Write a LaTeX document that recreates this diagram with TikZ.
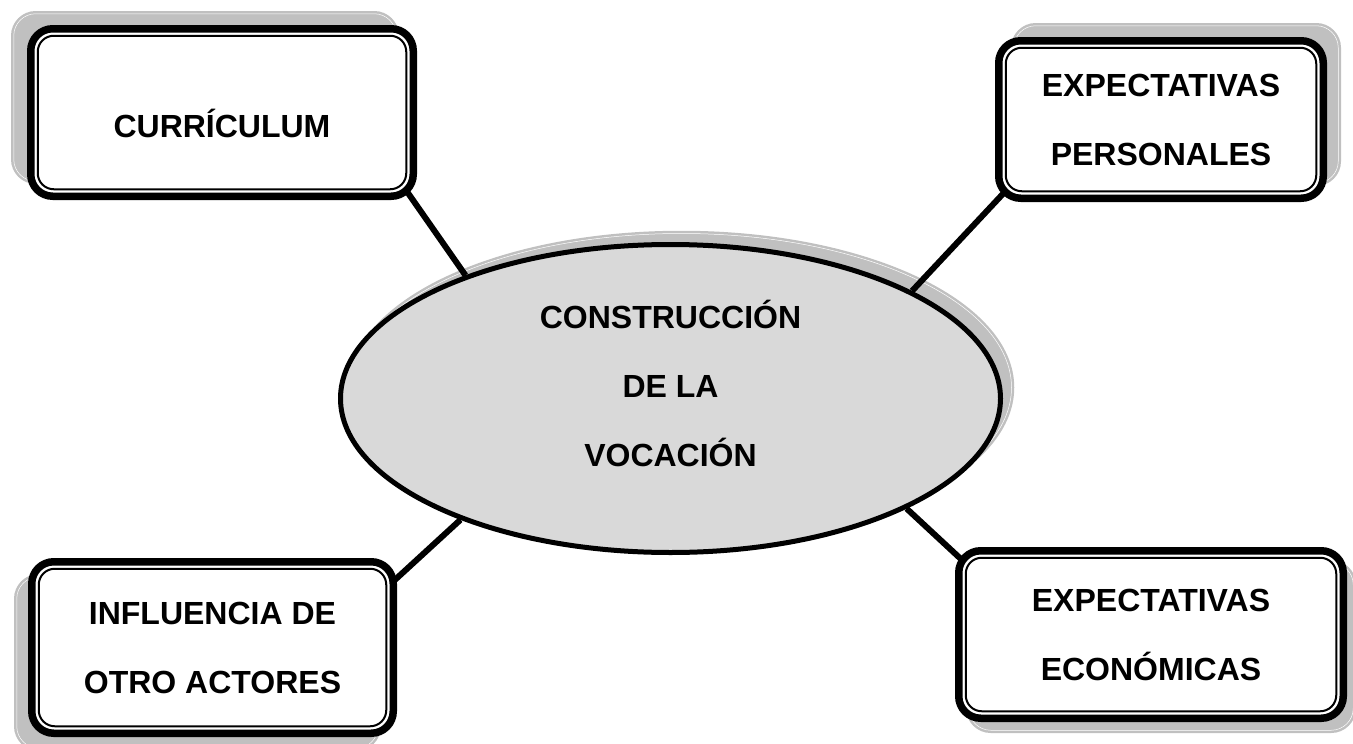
\documentclass[tikz,border=0pt]{standalone}
\usepackage{fontspec}
\setmainfont{Liberation Sans}
\usepackage{tikz}
\usetikzlibrary{shapes.geometric,shadows,calc}

\definecolor{ovalgray}{HTML}{D9D9D9}
\definecolor{shadegray}{HTML}{C0C0C0}

\tikzset{
  factor/.style={draw=black, line width=7.5pt, rounded corners=22pt, fill=white,
    inner sep=0pt, align=center, font=\bfseries\fontsize{32}{69}\selectfont},
  centre/.style={ellipse, draw=black, line width=5pt, fill=ovalgray, inner sep=0pt,
    minimum width=660pt, minimum height=308pt},
  words/.style={align=center, font=\bfseries\fontsize{32}{69}\selectfont},
  shade/.style 2 args={drop shadow={shadow xshift=#1, shadow yshift=#2, opacity=1,
    fill=shadegray, draw=shadegray, line width=2.5pt, double=white, double distance=0.5pt}},
  innerline/.style 2 args={draw=black, line width=2pt, rounded corners=16pt, inner sep=0pt,
    minimum width=#1, minimum height=#2},
  link/.style={line width=6pt}
}

\begin{document}
\begin{tikzpicture}[x=1pt,y=-1pt]
  \useasboundingbox (0,0) rectangle (1353,744);

  % central oval
  \node[centre, shade={11pt}{11pt}] (voc) at (670.5,398.5) {};
  \node[words] (voctext) at (670.5,383) {CONSTRUCCIÓN\\DE LA\\VOCACIÓN};

  % connectors, drawn under the boxes
  \draw[link] (voc.149.8) -- ($(voc.149.8)!1.12!(408,193)$) coordinate (e1);
  \draw[link] (voc.24.2) -- ($(voc.24.2)!1.1!(1000,197)$) coordinate (e2);
  \draw[link] (voc.210.8) -- ($(voc.210.8)!1.12!(397,578)$) coordinate (e3);
  \draw[link] (voc.-25.7) -- ($(voc.-25.7)!1.12!(962,560)$) coordinate (e4);

  % the four boxes
  \node[factor, minimum width=382.5pt, minimum height=167.5pt, text height=49pt, text depth=0pt,
    shade={-17pt}{15pt}] (cur) at (222,112.5) {CURRÍCULUM};
  \node[factor, minimum width=324.5pt, minimum height=157.5pt,
    shade={15pt}{15pt}] (per) at (1161,119.5) {EXPECTATIVAS\\PERSONALES};
  \node[factor, minimum width=361.5pt, minimum height=171.5pt,
    shade={-15pt}{-15pt}] (inf) at (212.5,647.5) {INFLUENCIA DE\\OTRO ACTORES};
  \node[factor, minimum width=384.5pt, minimum height=167.5pt,
    shade={10pt}{-12pt}] (eco) at (1151,634.5) {EXPECTATIVAS\\ECONÓMICAS};

  % thin inner frame of each box
  \node[innerline={368.5pt}{153.5pt}] (curin) at (cur.center) {};
  \node[innerline={310.5pt}{143.5pt}] (perin) at (per.center) {};
  \node[innerline={347.5pt}{157.5pt}] (infin) at (inf.center) {};
  \node[innerline={370.5pt}{153.5pt}] (ecoin) at (eco.center) {};
\end{tikzpicture}
\end{document}
